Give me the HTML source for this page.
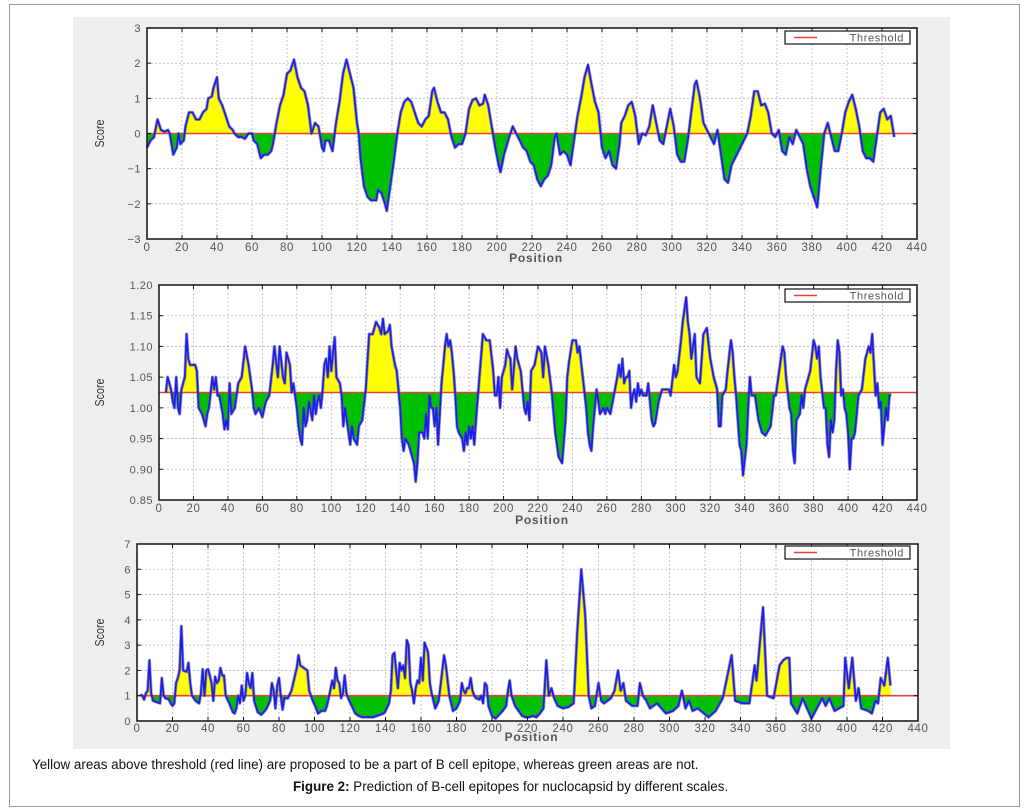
<!DOCTYPE html>
<html><head><meta charset="utf-8">
<style>
body{margin:0;background:#fff;width:1028px;height:809px;overflow:hidden;font-family:"Liberation Sans",sans-serif;}
#frame{position:absolute;left:9px;top:4px;width:1009px;height:801px;border:1px solid #9a9a9a;}
#panel{position:absolute;left:73px;top:17px;width:877px;height:732px;background:#eeeeee;}
svg{position:absolute;left:0;top:0;}
.cap1{position:absolute;left:32px;top:757px;font-size:13.4px;color:#111;white-space:nowrap;}
.cap2{position:absolute;left:293px;top:779px;font-size:13.4px;color:#111;white-space:nowrap;}
</style></head>
<body>
<div id="frame"></div>
<div id="panel"></div>
<svg id="chart" width="1028" height="809"></svg>
<div class="cap1">Yellow areas above threshold (red line) are proposed to be a part of B cell epitope, whereas green areas are not.</div>
<div class="cap2"><b>Figure 2:</b> Prediction of B-cell epitopes for nuclocapsid by different scales.</div>
<script>
const xTicks=[0,20,40,60,80,100,120,140,160,180,200,220,240,260,280,300,320,340,360,380,400,420,440];
const p1Ticks=[-3,-2,-1,0,1,2,3];
const p1TickLabels=["\u22123","\u22122","\u22121","0","1","2","3"];
const p1Threshold=0;
const p1Pos=[0,2,4,6,8,10,12,13,15,17,18,19,21,22,24,26,28,30,32,34,35,37,38,40,41,43,45,47,49,50,52,54,56,58,60,61,63,65,67,69,71,72,74,76,78,80,82,84,86,88,90,92,94,96,98,100,101,102,104,106,107,108,110,112,114,116,118,120,121,122,124,126,128,131,132,134,136,137,139,141,143,145,147,149,151,153,155,157,159,161,163,164,166,168,170,172,174,176,178,180,182,184,186,188,190,192,193,195,197,199,201,202,204,207,209,211,213,215,217,219,221,223,225,227,229,231,233,234,236,238,240,242,244,246,248,250,252,254,256,258,260,262,264,266,268,270,271,273,275,277,279,281,283,285,287,289,291,293,295,297,299,301,303,305,307,309,311,313,314,316,318,320,322,324,326,328,330,332,334,337,340,343,345,347,349,351,353,355,357,359,361,363,365,367,369,371,373,375,377,379,381,383,385,387,389,391,393,395,397,399,401,403,405,407,409,411,413,415,417,419,421,423,425,427];
const p1Val=[-0.4,-0.2,-0.1,0.4,0.1,0.05,0.1,0,-0.6,-0.4,0,-0.3,-0.2,0.2,0.6,0.6,0.4,0.4,0.6,0.7,1.0,1.05,1.3,1.6,1.0,0.8,0.5,0.2,0.1,0,-0.1,-0.1,-0.15,0,0,-0.2,-0.3,-0.7,-0.6,-0.6,-0.5,-0.3,0.3,0.8,1.1,1.7,1.8,2.1,1.6,1.3,1.2,0.8,0,0.3,0.2,-0.4,-0.5,-0.2,-0.2,-0.5,-0.1,0.3,0.9,1.7,2.1,1.7,1.3,0.3,0,-0.7,-1.5,-1.8,-1.9,-1.9,-1.6,-1.7,-2.0,-2.2,-1.5,-0.8,0,0.6,0.9,1.0,0.9,0.6,0.3,0.2,0.4,0.5,1.2,1.3,0.9,0.6,0.6,0.4,-0.1,-0.4,-0.3,-0.3,0,0.7,0.95,1.0,0.8,0.85,1.1,0.8,0.2,-0.4,-0.9,-1.1,-0.6,-0.1,0.2,0,-0.2,-0.4,-0.5,-0.8,-0.9,-1.3,-1.5,-1.3,-1.2,-0.9,-0.1,0,-0.6,-0.5,-0.6,-0.9,-0.2,0.5,1.0,1.6,1.95,1.4,0.9,0.6,-0.4,-0.7,-0.5,-0.9,-1.0,-0.3,0.3,0.5,0.8,0.9,0.5,-0.3,0,-0.05,0.2,0.8,0.3,-0.2,-0.3,0.2,0.7,0.2,-0.6,-0.8,-0.8,-0.2,0.6,1.4,1.5,1.0,0.3,0.1,-0.1,-0.3,0.1,-0.6,-1.3,-1.4,-0.9,-0.6,-0.3,0,0.5,1.2,1.2,0.8,0.85,0.6,0,-0.1,0.1,-0.5,-0.6,-0.1,-0.3,0.1,-0.1,-0.3,-1.0,-1.5,-1.8,-2.1,-1.0,0,0.3,-0.1,-0.5,-0.5,0,0.6,0.9,1.1,0.7,0.2,-0.5,-0.7,-0.7,-0.8,-0.1,0.6,0.7,0.4,0.5,-0.1];

const p2Ticks=[0.85,0.90,0.95,1.00,1.05,1.10,1.15,1.20];
const p2TickLabels=["0.85","0.90","0.95","1.00","1.05","1.10","1.15","1.20"];
const p2Threshold=1.025;
const p2Pos=[4,5,7,8,9,10,11,12,13,14,15,16,17,18,21,22,23,25,27,28,29,31,32,33,34,35,37,38,39,40,41,42,44,46,48,50,52,54,55,56,58,60,62,64,66,67,69,70,72,73,74,76,77,78,79,80,81,82,83,84,85,86,87,89,90,91,92,93,94,95,96,97,98,99,100,101,102,103,105,106,107,108,109,110,111,112,113,115,116,118,120,122,124,126,128,129,130,131,133,134,135,137,138,140,141,142,143,145,147,148,149,150,151,153,154,155,156,157,158,159,160,161,162,164,166,167,168,169,170,171,172,173,174,176,177,178,179,180,181,182,183,184,186,188,190,192,194,195,196,197,198,199,200,201,202,203,204,205,207,208,210,212,213,214,215,216,218,220,222,223,224,226,228,230,232,234,236,237,238,240,242,243,244,246,248,249,250,251,252,254,255,256,258,259,260,262,264,266,267,268,269,270,271,272,273,274,275,276,277,278,279,280,281,283,284,286,287,288,290,292,294,296,297,299,300,301,303,304,305,306,307,308,309,310,311,312,314,316,318,320,322,323,324,325,326,327,329,330,332,333,334,335,336,337,338,339,341,342,343,344,346,348,350,352,353,355,357,358,360,362,363,364,366,367,368,369,370,372,373,374,375,377,378,380,381,382,383,384,386,387,388,389,390,391,392,393,394,395,396,397,398,399,400,401,402,403,404,406,408,410,412,413,414,415,416,417,418,419,420,421,422,423,424,425];
const p2Val=[1.025,1.05,1.03,1.01,1.0,1.05,1.0,0.99,1.03,1.04,1.05,1.12,1.08,1.07,1.07,1.06,1.0,0.99,0.97,0.99,1.0,1.05,1.03,1.05,1.02,1.02,0.99,0.965,0.98,0.965,1.04,0.99,1.0,1.04,1.05,1.1,1.07,1.03,1.0,0.99,1.0,0.985,1.01,1.02,1.07,1.1,1.05,1.10,1.05,1.04,1.09,1.07,1.025,1.04,1.02,1.0,0.97,0.95,0.94,1.0,0.97,0.98,1.01,0.98,1.02,0.99,1.01,1.02,1.0,1.03,1.07,1.08,1.05,1.1,1.06,1.09,1.115,1.05,1.04,1.02,0.97,1.0,0.98,0.96,0.94,0.97,0.95,0.94,0.97,0.98,1.03,1.12,1.12,1.14,1.13,1.12,1.145,1.12,1.125,1.135,1.10,1.07,1.06,1.0,0.95,0.93,0.95,0.94,0.92,0.91,0.88,0.91,0.96,0.96,0.95,0.99,0.95,1.02,1.0,1.0,0.97,1.0,0.94,1.04,1.1,1.12,1.1,1.11,1.09,1.06,1.02,0.97,0.96,0.95,0.93,0.96,0.94,0.97,0.95,0.97,0.94,0.98,1.05,1.12,1.11,1.11,1.06,1.02,1.02,1.05,1.0,1.05,1.06,1.07,1.095,1.085,1.08,1.03,1.1,1.08,1.06,1.0,0.99,1.01,0.98,1.06,1.07,1.1,1.09,1.05,1.10,1.07,1.025,0.96,0.92,0.91,0.98,1.05,1.075,1.11,1.11,1.09,1.10,1.05,1.0,0.96,0.94,0.93,0.97,1.03,1.01,0.99,1.0,0.99,1.0,0.99,1.02,1.05,1.07,1.05,1.08,1.04,1.05,1.05,1.06,1.0,1.02,1.03,1.01,1.04,1.02,1.03,1.02,1.02,1.04,0.98,0.97,0.975,1.01,1.03,1.03,1.03,1.02,1.07,1.05,1.06,1.11,1.14,1.16,1.18,1.14,1.12,1.08,1.1,1.12,1.05,1.04,1.12,1.13,1.08,1.05,1.04,1.03,0.97,0.97,1.02,1.03,1.06,1.11,1.09,1.05,1.02,0.98,0.94,0.93,0.89,0.94,1.0,1.05,1.02,1.02,0.98,0.96,0.955,0.96,0.97,1.02,1.02,1.06,1.10,1.09,1.05,1.0,0.99,0.93,0.91,0.98,0.99,1.02,1.0,1.03,1.05,1.06,1.11,1.1,1.08,1.1,1.05,1.0,1.0,0.94,0.92,0.98,0.96,0.98,1.06,1.11,1.09,1.02,1.03,1.0,0.99,0.96,0.90,0.95,0.95,0.96,1.02,1.03,1.08,1.10,1.09,1.12,1.07,1.02,1.04,1.0,1.01,0.94,0.97,1.0,0.98,1.02,1.02];

const p3Ticks=[0,1,2,3,4,5,6,7];
const p3TickLabels=["0","1","2","3","4","5","6","7"];
const p3Threshold=1;
const p3Pos=[2,3,4,5,6,7,8,9,11,13,14,15,16,18,19,20,21,22,23,24,25,26,28,29,30,31,33,35,36,37,38,39,40,41,42,43,44,45,46,47,48,49,50,52,54,55,56,57,58,59,60,61,62,63,64,65,66,68,70,72,73,75,76,77,78,79,80,81,82,83,85,87,89,90,91,92,94,96,97,99,101,102,104,106,107,108,110,111,112,113,114,115,116,117,118,119,121,123,125,127,129,131,133,135,137,139,140,142,143,144,145,146,147,148,149,150,151,152,153,154,155,156,157,158,159,160,161,162,163,164,165,166,168,170,172,173,174,176,178,180,182,183,184,185,186,187,188,189,190,191,193,194,195,196,197,198,200,202,204,206,208,209,210,211,213,215,217,219,221,223,225,227,229,
230.6,232,233.5,235,237,240,243,246,248,250.3,252.5,254.5,256,258,260,261.5,263,265,267,269,271,272.5,274,275.5,279,282,283.3,285,287,289,293,298,302,305,307,309,311,313,316,322,326,330,335,337,341,345,348,349,352.7,355,358.6,362,364,366,367.5,368.5,372,375,380,386,388,390,393,398,399,401,403,405,406.5,408,412,414,416,417.5,419,421,423,424.5];
const p3Val=[1.05,1.0,0.85,1.1,1.2,2.4,1.1,0.8,0.75,0.7,1.7,1.0,0.9,0.85,0.7,0.6,0.7,1.5,1.7,2.0,3.75,2.0,1.95,2.3,1.5,1.0,0.8,0.7,1.1,2.05,1.0,2.0,2.05,1.8,1.5,0.8,1.75,1.5,1.6,2.1,1.8,1.8,1.0,0.7,0.35,0.3,0.5,1.0,0.7,1.4,0.8,1.0,1.9,1.5,1.3,1.9,0.8,0.35,0.25,0.4,0.5,0.8,1.5,1.2,0.5,1.4,1.7,1.0,0.45,0.9,0.9,1.2,1.8,2.1,2.6,2.2,2.1,2.0,1.2,0.8,0.5,0.3,0.4,0.4,0.6,0.9,1.6,1.3,2.1,1.6,1.5,0.9,1.1,1.8,1.1,0.9,0.6,0.3,0.2,0.15,0.15,0.15,0.15,0.2,0.25,0.3,0.4,0.7,1.2,2.6,2.7,2.0,1.3,2.3,2.0,2.2,1.7,3.2,3.0,1.5,1.2,0.7,1.3,1.6,1.5,2.5,1.6,3.1,2.9,2.7,1.5,1.1,0.5,0.8,2.0,2.6,2.2,1.0,0.4,0.5,0.8,1.5,1.2,1.1,1.3,1.3,1.7,1.2,1.0,0.9,0.85,1.0,0.7,1.5,1.4,0.6,0.2,0.1,0.25,0.4,0.6,1.2,1.6,1.0,0.6,0.4,0.2,0.15,0.15,0.2,0.15,0.3,0.5,
2.4,1.0,1.3,0.9,0.6,0.5,0.55,0.7,3.5,6.0,4.2,1.0,0.5,0.6,1.5,0.8,0.7,0.8,0.9,1.2,2.0,1.2,1.5,0.8,0.6,0.6,1.5,1.0,0.8,0.5,0.7,0.3,0.4,0.6,1.2,0.5,0.8,0.4,0.5,0.15,0.4,0.9,2.6,0.8,0.7,0.7,2.2,1.6,4.5,1.0,0.9,2.2,2.4,2.5,2.5,0.7,0.3,0.9,0.1,0.9,0.6,0.9,0.4,0.6,2.5,1.3,2.5,0.8,1.3,0.5,0.4,0.3,0.8,0.7,1.7,1.4,2.5,1.4];

const NS='http://www.w3.org/2000/svg';
const svg=document.getElementById('chart');
function mk(tag,attrs,parent){const e=document.createElementNS(NS,tag);for(const k in attrs)e.setAttribute(k,attrs[k]);(parent||svg).appendChild(e);return e;}

function drawPlot(id,box,yMin,yMax,yTicks,yLabels,thr,pos,val,lab){
  const g=mk('g',{});
  
  
  const n=Math.min(pos.length,val.length);
  const xS=v=>box.l+(v-0)/440*(box.r-box.l);
  const yS=v=>box.b-(v-yMin)/(yMax-yMin)*(box.b-box.t);
  const bg=mk('rect',{x:box.l,y:box.t,width:box.r-box.l,height:box.b-box.t,fill:'#fff'},g);
  
  
  xTicks.forEach(t=>{const l=mk('line',{x1:xS(t),x2:xS(t),y1:box.t,y2:box.b,stroke:'#b8b8b8','stroke-width':0.8,'stroke-dasharray':'2,2'},g);});
  yTicks.forEach(t=>{const l=mk('line',{x1:box.l,x2:box.r,y1:yS(t),y2:yS(t),stroke:'#b8b8b8','stroke-width':0.8,'stroke-dasharray':'2,2'},g);});
  const ty=yS(thr);
  let d='M'+xS(pos[0])+','+ty;
  for(let i=0;i<n;i++)d+=' L'+xS(pos[i]).toFixed(2)+','+yS(val[i]).toFixed(2);
  d+=' L'+xS(pos[n-1])+','+ty+' Z';
  const cu=mk('clipPath',{id:id+'-up'},g);mk('rect',{x:box.l,y:box.t,width:box.r-box.l,height:ty-box.t},cu);
  const cd=mk('clipPath',{id:id+'-dn'},g);mk('rect',{x:box.l,y:ty,width:box.r-box.l,height:box.b-ty},cd);
  const fu=mk('path',{d:d,fill:'#ffff00','clip-path':'url(#'+id+'-up)'},g);
  
  
  const fd=mk('path',{d:d,fill:'#00c000','clip-path':'url(#'+id+'-dn)'},g);
  
  
  const th=mk('line',{x1:box.l,x2:box.r,y1:ty,y2:ty,stroke:'#e8403a','stroke-width':1.6},g);
  
  
  let ld='';
  for(let i=0;i<n;i++)ld+=(i?' L':'M')+xS(pos[i]).toFixed(2)+','+yS(val[i]).toFixed(2);
  mk('path',{d:ld,fill:'none',stroke:'#5a5a8a','stroke-width':3.2,'stroke-linejoin':'round',opacity:0.6},g);
  const sl=mk('path',{d:ld,fill:'none',stroke:'#1c1cf0','stroke-width':1.7,'stroke-linejoin':'round'},g);
  
  
  const fr=mk('rect',{x:box.l,y:box.t,width:box.r-box.l,height:box.b-box.t,fill:'none',stroke:'#111','stroke-width':1.5},g);
  
  
  xTicks.forEach(t=>{
    mk('line',{x1:xS(t),x2:xS(t),y1:box.b,y2:box.b-4,stroke:'#111','stroke-width':1},g);
    mk('line',{x1:xS(t),x2:xS(t),y1:box.t,y2:box.t+4,stroke:'#111','stroke-width':1},g);
    const tx=mk('text',{x:xS(t),y:box.b+lab.xl,'text-anchor':'middle','font-size':11.5,fill:'#555','letter-spacing':'0.6'},g);
    tx.textContent=t;
    
    
  });
  yTicks.forEach((t,i)=>{
    mk('line',{x1:box.l,x2:box.l+4,y1:yS(t),y2:yS(t),stroke:'#111','stroke-width':1},g);
    mk('line',{x1:box.r,x2:box.r-4,y1:yS(t),y2:yS(t),stroke:'#111','stroke-width':1},g);
    const ty2=mk('text',{x:box.l-6,y:yS(t)+4,'text-anchor':'end','font-size':11,fill:'#555','letter-spacing':'0.5'},g);
    ty2.textContent=yLabels[i];
    
    
  });
  const xt=mk('text',{x:(box.l+box.r)/2+4,y:box.b+lab.pl,'text-anchor':'middle','font-size':12,'font-weight':'bold',fill:'#555','letter-spacing':'0.8'},g);
  xt.textContent='Position';
  
  
  const sx=lab.sx,sy=(box.t+box.b)/2;
  const yt=mk('text',{x:sx,y:sy,'text-anchor':'middle','font-size':13,fill:'#333',transform:'rotate(-90 '+sx+' '+sy+')','textLength':28,'lengthAdjust':'spacingAndGlyphs'},g);
  yt.textContent='Score';
  
  
  const lg=mk('g',{},g);
  
  
  mk('rect',{x:785,y:lab.ly,width:125,height:13,fill:'#fff',stroke:'#111','stroke-width':1.2},lg);
  mk('line',{x1:794,x2:817,y1:lab.ly+6.5,y2:lab.ly+6.5,stroke:'#e8403a','stroke-width':1.6},lg);
  const lt=mk('text',{x:904,y:lab.ly+10.5,'text-anchor':'end','font-size':11,fill:'#555','letter-spacing':'0.6'},lg);
  lt.textContent='Threshold';
  
  
}
drawPlot('score-chart-1',{l:147,r:917,t:28,b:239},-3,3,p1Ticks,p1TickLabels,p1Threshold,p1Pos,p1Val,{xl:12,pl:23,sx:104,ly:31});
drawPlot('score-chart-2',{l:159,r:917,t:285,b:500},0.85,1.20,p2Ticks,p2TickLabels,p2Threshold,p2Pos,p2Val,{xl:12,pl:24,sx:104,ly:289});
drawPlot('score-chart-3',{l:137,r:918,t:544,b:721},0,7,p3Ticks,p3TickLabels,p3Threshold,p3Pos,p3Val,{xl:11,pl:20,sx:104,ly:546});
</script>
</body></html>
